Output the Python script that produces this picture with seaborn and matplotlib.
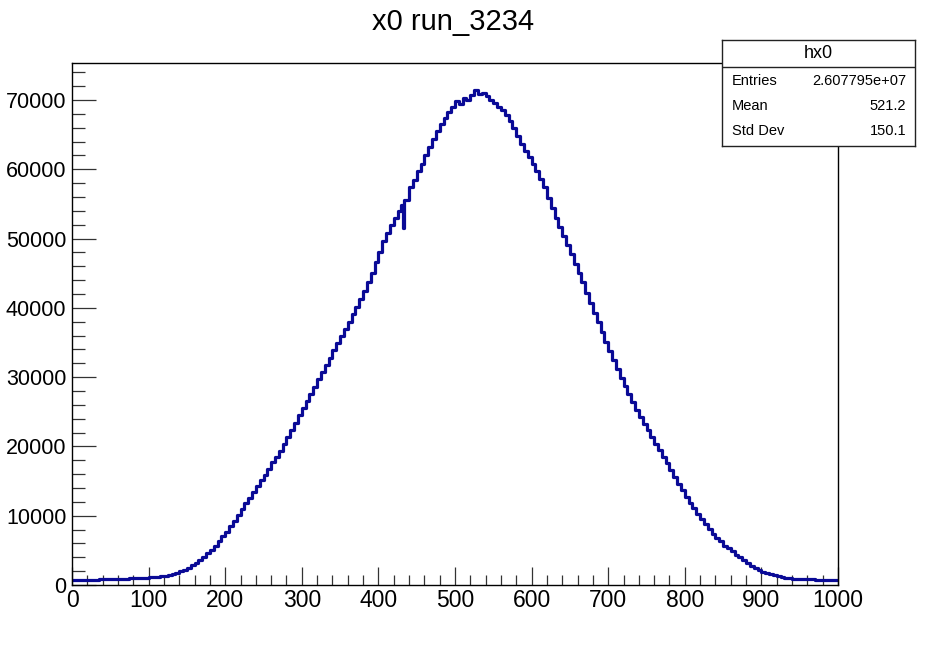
import numpy as np
import pandas as pd
import matplotlib
matplotlib.use("Agg")
import matplotlib.pyplot as plt
from matplotlib.ticker import MultipleLocator, FixedLocator
import seaborn as sns

# ---------------- data ----------------
title = "x0 run_3234"
hist_name = "hx0"
stats_labels = ["Entries", "Mean", "Std Dev"]
stats_values = ["2.607795e+07", "521.2", "150.1"]

# bin edges (5 wide, with the narrow dip around x=432)
bin_edges = list(range(0, 431, 5)) + [432, 434] + list(range(440, 1001, 5))
counts = [
    # 0-100
    740, 760, 750, 770, 780, 770, 790, 800, 820, 830,
    850, 860, 880, 900, 920, 950, 970, 1000, 1040, 1080,
    # 100-200
    1120, 1160, 1210, 1270, 1340, 1420, 1600, 1800, 2000, 2200,
    2500, 2850, 3200, 3650, 4100, 4600, 5050, 5700, 6300, 7000,
    # 200-300
    7700, 8500, 9300, 10100, 10900, 11800, 12600, 13400, 14300, 15100,
    15900, 16800, 17700, 18500, 19400, 20300, 21400, 22400, 23400, 24500,
    # 300-400
    25500, 26600, 27600, 28600, 29700, 30700, 31800, 32800, 33900, 34900,
    35900, 37000, 38000, 39100, 40100, 41300, 42500, 43800, 45100, 46600,
    # 400-430
    48100, 49600, 50800, 51900, 53000, 54000,
    # 430-432, 432-434, 434-440
    54800, 51500, 55500,
    # 440-500
    57400, 58500, 59700, 60800, 62000, 63200, 64400, 65500, 66500, 67400,
    68300, 69000,
    # 500-600
    69800, 69400, 70300, 70000, 70700, 71500, 70900, 71000, 70600, 70000,
    69600, 69000, 68500, 67900, 66900, 65900, 64800, 63700, 62700, 61800,
    # 600-700
    60700, 59700, 58600, 57400, 55900, 54400, 53000, 51700, 50400, 49100,
    47800, 46400, 45100, 43700, 42200, 40700, 39300, 37900, 36500, 35100,
    # 700-800
    33800, 32500, 31200, 29900, 28700, 27600, 26400, 25300, 24200, 23200,
    22300, 21300, 20400, 19500, 18500, 17600, 16600, 15600, 14600, 13700,
    # 800-900
    12700, 11900, 11100, 10200, 9500, 8800, 8100, 7400, 6800, 6300,
    5700, 5300, 4900, 4400, 4000, 3600, 3200, 2800, 2450, 2150,
    # 900-1000
    1900, 1700, 1550, 1400, 1250, 1150, 1050, 980, 930, 890,
    860, 840, 820, 800, 790, 770, 760, 740, 730, 720,
]

x_ticks = [0, 100, 200, 300, 400, 500, 600, 700, 800, 900, 1000]
y_ticks = [0, 10000, 20000, 30000, 40000, 50000, 60000, 70000]

# ---------------- figure ----------------
sns.set_style("white")
plt.rcParams["font.family"] = ["Liberation Sans", "DejaVu Sans"]
plt.rcParams["text.color"] = "black"
plt.rcParams["xtick.color"] = "black"
plt.rcParams["ytick.color"] = "black"

W, H = 930, 655
fig = plt.figure(figsize=(W / 100, H / 100), dpi=100)
fig.patch.set_facecolor("white")

L, R, T, B = 72, 838, 63, 585
ax = fig.add_axes([L / W, 1 - B / H, (R - L) / W, (B - T) / H])

edges = [float(e) for e in bin_edges]
mids = [(a + b) / 2 for a, b in zip(edges[:-1], edges[1:])]
df = pd.DataFrame({"x": mids, "w": [float(c) for c in counts]})

sns.histplot(data=df, x="x", weights="w", bins=edges, element="step",
             fill=False, color="#0a0a96", linewidth=2.3, ax=ax)

ax.set_xlim(0, 1000)
ax.set_ylim(0, 75340)
ax.set_xlabel("")
ax.set_ylabel("")

ax.xaxis.set_major_locator(FixedLocator(x_ticks))
ax.xaxis.set_minor_locator(MultipleLocator(20))
ax.yaxis.set_major_locator(FixedLocator(y_ticks))
ax.yaxis.set_minor_locator(MultipleLocator(2000))
ax.set_xticklabels([str(v) for v in x_ticks])
ax.set_yticklabels([str(v) for v in y_ticks])

ax.tick_params(axis="x", which="major", direction="in", length=13, width=0.9,
               color="#333333", labelcolor="black", labelsize=16.5, pad=3,
               top=False, bottom=True)
ax.tick_params(axis="x", which="minor", direction="in", length=7, width=0.9,
               color="#333333", top=False, bottom=True)
ax.tick_params(axis="y", which="major", direction="in", length=17, width=0.9,
               color="#333333", labelcolor="black", labelsize=15.5, pad=4,
               right=False, left=True)
ax.tick_params(axis="y", which="minor", direction="in", length=9, width=0.9,
               color="#333333", right=False, left=True)
for s in ax.spines.values():
    s.set_visible(True)
    s.set_color("black")
    s.set_linewidth(1.0)

# title
fig.text(453 / W, 1 - 22 / H, title, ha="center", va="center", fontsize=21,
         color="black")

# stats box
bx0, by0, bx1, by1 = 722, 40, 915, 146
sax = fig.add_axes([bx0 / W, 1 - by1 / H, (bx1 - bx0) / W, (by1 - by0) / H])
sax.set_facecolor("white")
sax.set_xlim(0, 1)
sax.set_ylim(0, 1)
sax.set_xticks([])
sax.set_yticks([])
for s in sax.spines.values():
    s.set_visible(True)
    s.set_color("#222222")
    s.set_linewidth(1.0)
sax.axhline((by1 - 67) / (by1 - by0), color="#222222", linewidth=1.0)
sax.text(0.5, (by1 - 53) / (by1 - by0), hist_name, ha="center", va="center",
         fontsize=13, color="black")
row_y = [81, 106, 131]
for lab, val, yy in zip(stats_labels, stats_values, row_y):
    yf = (by1 - yy) / (by1 - by0)
    sax.text(0.052, yf, lab, ha="left", va="center", fontsize=10.5, color="black")
    sax.text(0.955, yf, val, ha="right", va="center", fontsize=10.5, color="black")

fig.savefig("out.png", dpi=100, facecolor="white")
